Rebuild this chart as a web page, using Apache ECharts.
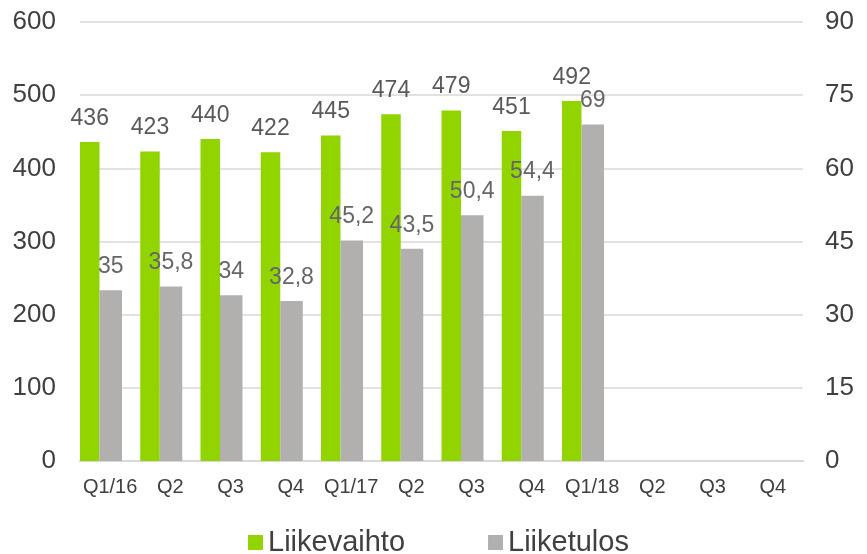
<!DOCTYPE html>
<html>
<head>
<meta charset="utf-8">
<script src="https://cdn.jsdelivr.net/npm/echarts@6/dist/echarts.min.js"></script>
<style>
  html, body { margin: 0; padding: 0; background: #fff; }
  #main { width: 867px; height: 554px; }
</style>
</head>
<body>
<div id="main"></div>
<script>
var quarters = ['Q1/16', 'Q2', 'Q3', 'Q4', 'Q1/17', 'Q2', 'Q3', 'Q4', 'Q1/18', 'Q2', 'Q3', 'Q4'];
var liikevaihto = [436, 423, 440, 422, 445, 474, 479, 451, 492];
var liiketulos = [35, 35.8, 34, 32.8, 45.2, 43.5, 50.4, 54.4, 69];

var leftTicks = { min: 0, max: 600, interval: 100 };
var rightTicks = { min: 0, max: 90, interval: 15 };

var font = 'Liberation Sans, Arial, sans-serif';

var myChart = echarts.init(document.getElementById('main'));

var option = {
    animation: false,
    textStyle: { fontFamily: font },
    grid: { left: 80, right: 64, top: 22, bottom: 93 },
    legend: {
        data: ['Liikevaihto', 'Liiketulos'],
        left: 243,
        top: 523,
        itemWidth: 15,
        itemHeight: 15,
        itemGap: 83,
        icon: 'rect',
        textStyle: { fontSize: 29, color: '#404040', fontFamily: font }
    },
    xAxis: {
        type: 'category',
        data: quarters,
        axisLine: { lineStyle: { color: '#d9d9d9', width: 2 } },
        axisTick: { show: false },
        axisLabel: { fontSize: 20, color: '#404040', margin: 16, interval: 0 }
    },
    yAxis: [
        {
            type: 'value',
            min: leftTicks.min, max: leftTicks.max, interval: leftTicks.interval,
            axisLine: { show: false },
            axisTick: { show: false },
            splitLine: { lineStyle: { color: '#d9d9d9', width: 1.5 } },
            axisLabel: { fontSize: 26, color: '#404040', margin: 24 }
        },
        {
            type: 'value',
            min: rightTicks.min, max: rightTicks.max, interval: rightTicks.interval,
            axisLine: { show: false },
            axisTick: { show: false },
            splitLine: { show: false },
            axisLabel: { fontSize: 26, color: '#404040', margin: 22 }
        }
    ],
    series: [
        {
            name: 'Liikevaihto',
            type: 'bar',
            yAxisIndex: 0,
            data: liikevaihto,
            barWidth: 19.5,
            barGap: '0%',
            itemStyle: { color: '#92d400' },
            label: {
                show: true,
                position: 'top',
                distance: 12,
                fontSize: 23,
                color: '#595959'
            }
        },
        {
            name: 'Liiketulos',
            type: 'bar',
            yAxisIndex: 1,
            data: liiketulos,
            barWidth: 22.5,
            barGap: '0%',
            itemStyle: { color: '#b1b0ae' },
            label: {
                show: true,
                position: 'top',
                distance: 12,
                fontSize: 23,
                color: '#666666',
                formatter: function (p) {
                    return String(p.value).replace('.', ',');
                }
            }
        },
        {
            // tyhjä sarja, jotta pylväät asettuvat kategorian vasempaan reunaan
            name: 'spacer',
            type: 'bar',
            yAxisIndex: 0,
            data: [],
            barWidth: 18.25,
            barGap: '0%',
            silent: true
        }
    ]
};

myChart.setOption(option);
</script>
</body>
</html>
